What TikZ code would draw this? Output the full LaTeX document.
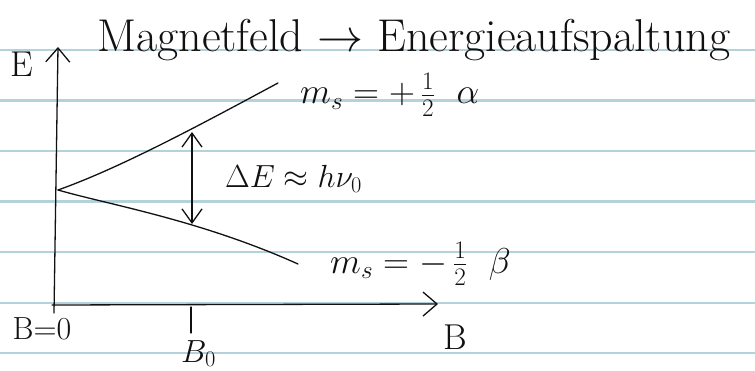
\RequirePackage{fix-cm}
\documentclass[tikz,border=0pt]{standalone}
\usepackage{xcolor}
\usetikzlibrary{arrows.meta}
\definecolor{ruling}{HTML}{B4D2DC}
\definecolor{ink}{HTML}{111111}
\newcommand{\handsize}{\fontsize{36}{40}\selectfont}
\newcommand{\gapsize}{\fontsize{32}{36}\selectfont}
\newcommand{\titlesize}{\fontsize{46}{52}\selectfont}

\begin{document}
\begin{tikzpicture}[x=1pt,y=-1pt,
  rule/.style={draw=ruling,line width=2.2pt},
  pen/.style={draw=ink,line width=1.3pt,line cap=round,line join=round},
  barb/.style={-{Straight Barb[length=14pt,width=24pt,line width=1.3pt]}},
  hand/.style={text=ink,inner sep=0pt,font=\handsize}]
\useasboundingbox (0,0) rectangle (755,371);
\fill[white] (0,0) rectangle (755,371);
% ruled paper
\foreach \y in {50,100.5,151,201.5,252,303,353}
  \draw[rule] (0,\y) -- (755,\y);

% axes
\coordinate (ebot) at (54,313);
\coordinate (etop) at (58,47);
\coordinate (bleft) at (52,305);
\coordinate (bright) at (438,304);
\draw[pen,barb] (ebot) -- (etop);
\draw[pen,barb] (bleft) -- (bright);

% splitting of the level
\coordinate (split) at (58,190);
\coordinate (alpha) at (278,83);
\coordinate (beta) at (298,264);
\coordinate (gaptop) at (192,132);
\coordinate (gapbot) at (192,224);
\draw[pen] (split) .. controls (120,168) and (200,125) .. (alpha);
\draw[pen] (split) .. controls (110,205) and (200,220) .. (beta);
\draw[pen,{Straight Barb[length=14pt,width=20pt,line width=1.3pt]}-{Straight Barb[length=14pt,width=20pt,line width=1.3pt]}] (gapbot) -- (gaptop);

% tick at B0
\coordinate (tickup) at (191,307);
\coordinate (tickdn) at (191,333);
\draw[pen] (tickup) -- (tickdn);

% texts
\node[hand,font=\titlesize,anchor=base west] (title) at (97,52) {Magnetfeld $\rightarrow$ Energieaufspaltung};
\node[hand] (elabel) at (22,64) {E};
\node[hand,anchor=west] (upper) at (300,95) {$m_s = +\,\frac{1}{2}\ \ \alpha$};
\node[hand,font=\gapsize,anchor=west] (gap) at (225,179) {$\Delta E \approx h\nu_0$};
\node[hand,anchor=west] (lower) at (330,264) {$m_s = -\,\frac{1}{2}\ \ \beta$};
\node[hand,font=\fontsize{32}{36}\selectfont] (bzero) at (42,329) {B=0};
\node[hand] (baxis) at (455,337) {B};
\node[hand,font=\fontsize{32}{36}\selectfont,anchor=base west] (bnull) at (181,362) {$B_0$};
\end{tikzpicture}
\end{document}
